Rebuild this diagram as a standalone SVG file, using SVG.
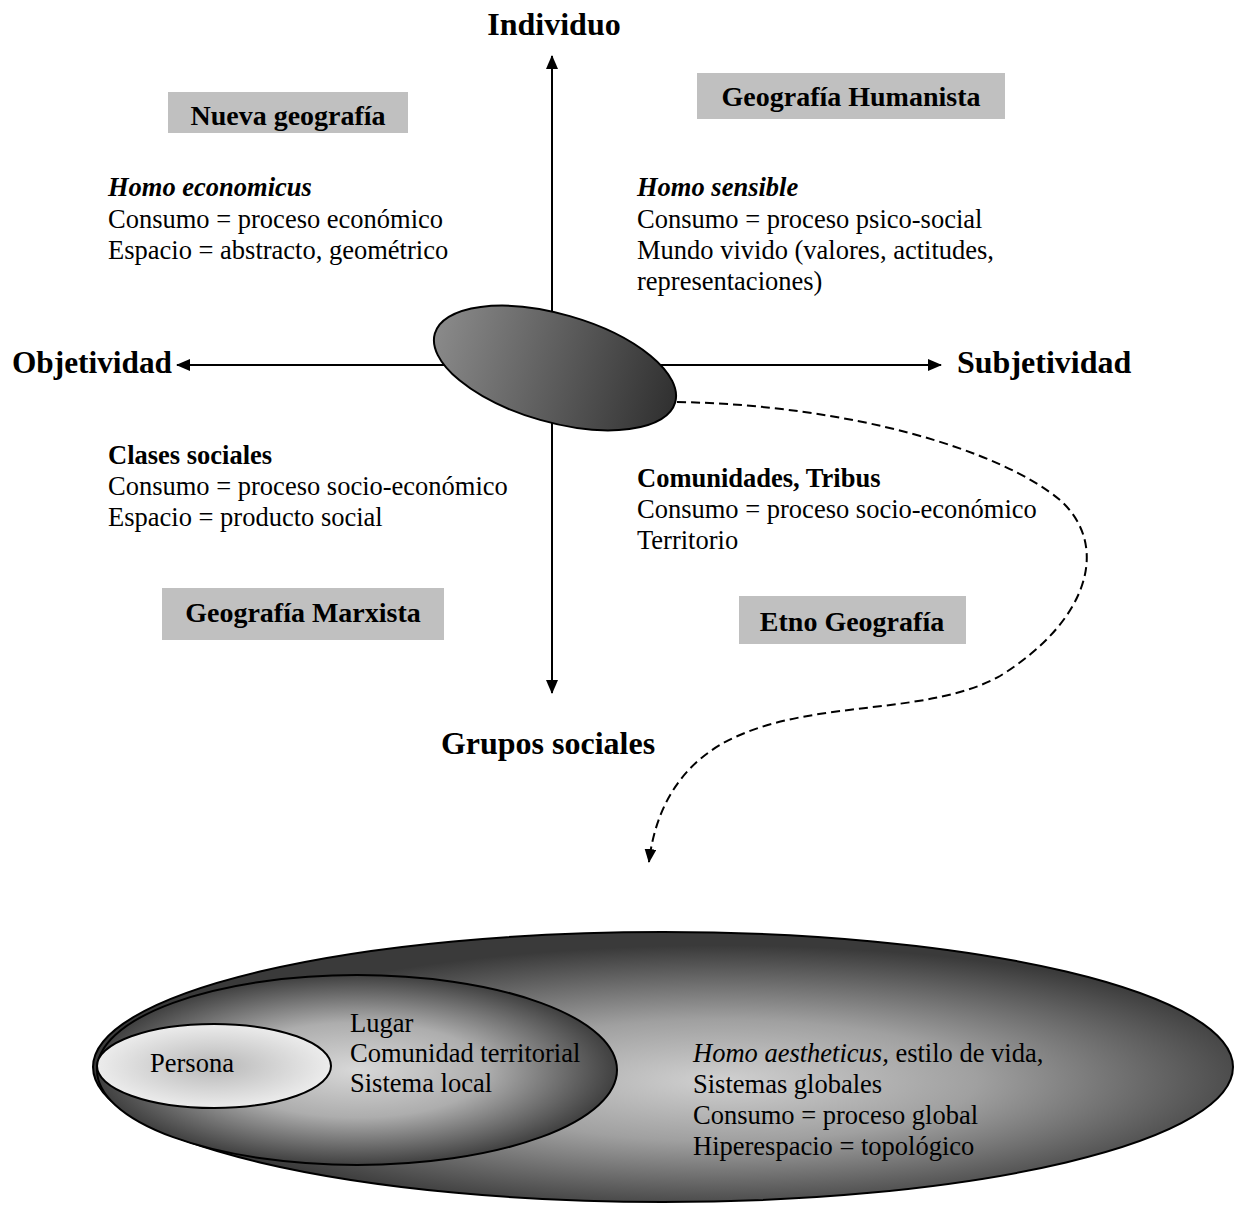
<svg xmlns="http://www.w3.org/2000/svg" width="1236" height="1205" viewBox="0 0 1236 1205">
<style>
  text { font-family: "Liberation Serif", "Times New Roman", serif; fill: #000; }
  .axis { font-size: 32px; font-weight: bold; }
  .box-label { font-size: 28px; font-weight: bold; }
  .head { font-size: 26.5px; font-weight: bold; }
  .headi { font-size: 26.5px; font-weight: bold; font-style: italic; }
  .body { font-size: 26.5px; }
  .box { fill: #c0c0c0; }
  .axisline { stroke: #000; stroke-width: 2; fill: none; }
  .dash { stroke: #000; stroke-width: 2; fill: none; stroke-dasharray: 9 5; }
  .ell { stroke: #000; stroke-width: 2; }
</style>
<defs>
  <marker id="arr" viewBox="0 0 14 12" refX="13" refY="6" markerWidth="14" markerHeight="12" markerUnits="userSpaceOnUse" orient="auto">
    <path d="M0,0 L14,6 L0,12 Z" fill="#000"/>
  </marker>
  <marker id="arrs" viewBox="0 0 14 12" refX="13" refY="6" markerWidth="14" markerHeight="12" markerUnits="userSpaceOnUse" orient="auto">
    <path d="M0,0 L14,6 L0,12 Z" fill="#000"/>
  </marker>
  <linearGradient id="gCenter" x1="0" y1="0" x2="1" y2="0">
    <stop offset="0" stop-color="#8a8a8a"/>
    <stop offset="1" stop-color="#303030"/>
  </linearGradient>
  <radialGradient id="gOuter" cx="0.55" cy="0.55" r="0.5">
    <stop offset="0" stop-color="#d0d0d0"/>
    <stop offset="0.45" stop-color="#a0a0a0"/>
    <stop offset="1" stop-color="#3a3a3a"/>
  </radialGradient>
  <radialGradient id="gMid" cx="0.5" cy="0.5" r="0.5">
    <stop offset="0" stop-color="#d8d8d8"/>
    <stop offset="0.5" stop-color="#adadad"/>
    <stop offset="1" stop-color="#404040"/>
  </radialGradient>
  <radialGradient id="gPers" cx="0.5" cy="0.5" r="0.5">
    <stop offset="0" stop-color="#b8b8b8"/>
    <stop offset="1" stop-color="#ececec"/>
  </radialGradient>
</defs>

<g id="connectors">
  <line class="axisline" x1="552" y1="365" x2="552" y2="56" marker-end="url(#arr)"/>
  <line class="axisline" x1="552" y1="365" x2="552" y2="693" marker-end="url(#arr)"/>
  <line class="axisline" x1="552" y1="365" x2="177" y2="365" marker-end="url(#arr)"/>
  <line class="axisline" x1="552" y1="365" x2="941" y2="365" marker-end="url(#arr)"/>
  <path class="dash" d="M677,402 C850,405 1000,450 1060,500 C1110,545 1090,620 1000,676 C930,715 820,700 740,735 C680,760 655,810 649,862" marker-end="url(#arrs)"/>
</g>

<g id="center-ellipse">
  <ellipse class="ell" cx="555" cy="368" rx="125" ry="54" transform="rotate(16 555 368)" fill="url(#gCenter)"/>
</g>

<g id="axis-individuo"><text class="axis" x="554" y="35" text-anchor="middle">Individuo</text></g>
<g id="axis-grupos"><text class="axis" x="548" y="754" text-anchor="middle">Grupos sociales</text></g>
<g id="axis-objetividad"><text class="axis" x="12" y="373" textLength="160" lengthAdjust="spacingAndGlyphs">Objetividad</text></g>
<g id="axis-subjetividad"><text class="axis" x="957" y="373">Subjetividad</text></g>

<g id="nueva-geografia">
  <rect class="box" x="168" y="92" width="240" height="41"/>
  <text class="box-label" x="288" y="125" text-anchor="middle">Nueva geografía</text>
</g>
<g id="geografia-humanista">
  <rect class="box" x="697" y="73" width="308" height="46"/>
  <text class="box-label" x="851" y="106" text-anchor="middle">Geografía Humanista</text>
</g>
<g id="geografia-marxista">
  <rect class="box" x="162" y="588" width="282" height="52"/>
  <text class="box-label" x="303" y="622" text-anchor="middle">Geografía Marxista</text>
</g>
<g id="etno-geografia">
  <rect class="box" x="739" y="596" width="227" height="48"/>
  <text class="box-label" x="852" y="631" text-anchor="middle">Etno Geografía</text>
</g>

<g id="q-nueva">
  <text class="headi" x="108" y="196">Homo economicus</text>
  <text class="body" x="108" y="228">Consumo = proceso económico</text>
  <text class="body" x="108" y="259">Espacio = abstracto, geométrico</text>
</g>
<g id="q-humanista">
  <text class="headi" x="637" y="196">Homo sensible</text>
  <text class="body" x="637" y="228">Consumo = proceso psico-social</text>
  <text class="body" x="637" y="259">Mundo vivido (valores, actitudes,</text>
  <text class="body" x="637" y="290">representaciones)</text>
</g>
<g id="q-marxista">
  <text class="head" x="108" y="464">Clases sociales</text>
  <text class="body" x="108" y="495">Consumo = proceso socio-económico</text>
  <text class="body" x="108" y="526">Espacio = producto social</text>
</g>
<g id="q-etno">
  <text class="head" x="637" y="487">Comunidades, Tribus</text>
  <text class="body" x="637" y="518">Consumo = proceso socio-económico</text>
  <text class="body" x="637" y="549">Territorio</text>
</g>

<g id="global">
  <ellipse class="ell" cx="663" cy="1067" rx="570" ry="135" fill="url(#gOuter)"/>
  <text class="body" x="693" y="1062"><tspan font-style="italic">Homo aestheticus,</tspan> estilo de vida,</text>
  <text class="body" x="693" y="1093">Sistemas globales</text>
  <text class="body" x="693" y="1124">Consumo = proceso global</text>
  <text class="body" x="693" y="1155">Hiperespacio = topológico</text>
</g>
<g id="local">
  <ellipse class="ell" cx="357" cy="1070" rx="260" ry="95" fill="url(#gMid)"/>
  <text class="body" x="350" y="1032">Lugar</text>
  <text class="body" x="350" y="1062">Comunidad territorial</text>
  <text class="body" x="350" y="1092">Sistema local</text>
</g>
<g id="persona">
  <ellipse class="ell" cx="214" cy="1066" rx="117" ry="42" fill="url(#gPers)"/>
  <text class="body" x="150" y="1072">Persona</text>
</g>
</svg>
